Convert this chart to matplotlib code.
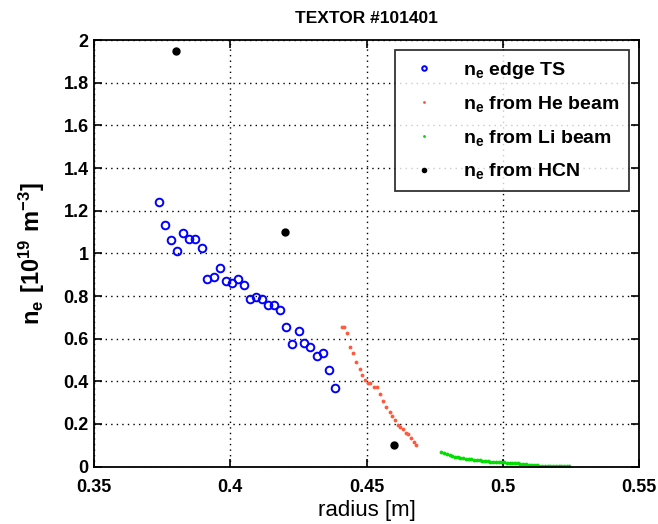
import numpy as np
import matplotlib
matplotlib.use("Agg")
import matplotlib.pyplot as plt

plt.rcParams['font.family'] = ['Liberation Sans', 'DejaVu Sans']
plt.rcParams['mathtext.default'] = 'regular'

# edge Thomson scattering
ts_r = [0.3738, 0.3761, 0.3781, 0.3805, 0.3827, 0.3849, 0.3871, 0.3895, 0.3914, 0.3939,
        0.3961, 0.3983, 0.4005, 0.4027, 0.4049, 0.4071, 0.4093, 0.4115, 0.4139, 0.4161,
        0.4183, 0.4205, 0.4227, 0.4251, 0.4271, 0.4293, 0.4317, 0.4339, 0.4361, 0.4385]
ts_ne = [1.241, 1.133, 1.061, 1.011, 1.097, 1.069, 1.067, 1.025, 0.878, 0.888,
         0.931, 0.872, 0.862, 0.880, 0.853, 0.785, 0.794, 0.786, 0.758, 0.759,
         0.734, 0.655, 0.576, 0.634, 0.580, 0.562, 0.520, 0.531, 0.453, 0.367]

# He beam
he_r = [0.4410, 0.4417, 0.4427, 0.4439, 0.4451, 0.4463, 0.4475, 0.4485, 0.4495, 0.4505,
        0.4514, 0.4527, 0.4539, 0.4549, 0.4561, 0.4573, 0.4585, 0.4595, 0.4605, 0.4614,
        0.4624, 0.4634, 0.4644, 0.4653, 0.4663, 0.4673, 0.4683]
he_ne = [0.656, 0.656, 0.625, 0.562, 0.531, 0.492, 0.456, 0.430, 0.406, 0.394,
         0.394, 0.375, 0.372, 0.340, 0.309, 0.278, 0.258, 0.237, 0.219, 0.195,
         0.184, 0.175, 0.159, 0.153, 0.133, 0.117, 0.100]

# Li beam
li_r = [0.4775, 0.4785, 0.4795, 0.4805, 0.4815, 0.4825, 0.4835, 0.4845, 0.4855, 0.4865,
        0.4875, 0.4885, 0.4895, 0.4905, 0.4915, 0.4925, 0.4935, 0.4945, 0.4955, 0.4965,
        0.4975, 0.4985, 0.4995, 0.5005, 0.5015, 0.5025, 0.5035, 0.5045, 0.5055, 0.5065,
        0.5075, 0.5085, 0.5095, 0.5105, 0.5115, 0.5125, 0.5135, 0.5145, 0.5155, 0.5165,
        0.5175, 0.5185, 0.5195, 0.5205, 0.5215, 0.5225, 0.5235, 0.5245]
li_ne = [0.070, 0.064, 0.059, 0.054, 0.050, 0.047, 0.044, 0.042, 0.040, 0.038,
         0.036, 0.034, 0.032, 0.031, 0.029, 0.028, 0.027, 0.025, 0.024, 0.023,
         0.022, 0.021, 0.021, 0.020, 0.019, 0.018, 0.017, 0.016, 0.015, 0.013,
         0.012, 0.011, 0.009, 0.008, 0.007, 0.006, 0.005, 0.004, 0.003, 0.003,
         0.002, 0.002, 0.002, 0.001, 0.001, 0.001, 0.001, 0.001]

# HCN interferometer
hcn_r = [0.38, 0.42, 0.46]
hcn_ne = [1.95, 1.10, 0.10]

fig = plt.figure(figsize=(6.58, 5.24), dpi=100)
ax = fig.add_axes([0.143, 0.1095, 0.828, 0.814])

ax.plot(ts_r, ts_ne, 'o', mfc='none', mec='#0000ff', ms=5.5, mew=1.4, label=r'$n_e$ edge TS')
ax.plot(he_r, he_ne, '.', color='#ff5a3c', ms=3.5, label=r'$n_e$ from He beam')
ax.plot(li_r, li_ne, '.', color='#00e000', ms=3.5, label=r'$n_e$ from Li beam')
ax.plot(hcn_r, hcn_ne, 'o', color='black', ms=5, label=r'$n_e$ from HCN')

ax.set_xlim(0.35, 0.55)
ax.set_ylim(0, 2)
ax.set_xticks([0.35, 0.4, 0.45, 0.5, 0.55])
ax.set_xticklabels(['0.35', '0.4', '0.45', '0.5', '0.55'])
ax.set_yticks(np.arange(0, 2.01, 0.2))
ax.set_yticklabels(['0', '0.2', '0.4', '0.6', '0.8', '1', '1.2', '1.4', '1.6', '1.8', '2'])
ax.grid(True, color='black', linestyle=(0, (1, 3)), linewidth=1)
ax.tick_params(direction='in', top=True, right=True, length=6, width=1.2,
               labelsize=13)
ax.tick_params(axis='x', pad=9)
ax.tick_params(axis='y', pad=4)
for lab in ax.get_xticklabels() + ax.get_yticklabels():
    lab.set_fontweight('bold')
for s in ax.spines.values():
    s.set_linewidth(1.3)

ax.set_title('TEXTOR #101401', fontsize=12.5, fontweight='bold', pad=12)
ax.set_xlabel('radius [m]', fontsize=16, labelpad=3)
ax.set_ylabel(r'$n_e\ [10^{19}\ m^{-3}]$', fontsize=17, fontweight='bold', labelpad=12)

leg = ax.legend(loc='upper right', fontsize=14, frameon=True, fancybox=False,
                edgecolor='black', borderaxespad=0.5, handletextpad=1.0,
                markerscale=0.6, labelspacing=0.7, borderpad=0.5)
leg.get_frame().set_linewidth(1.3)
for t in leg.get_texts():
    t.set_fontweight('bold')

fig.savefig('out.png', dpi=100)
